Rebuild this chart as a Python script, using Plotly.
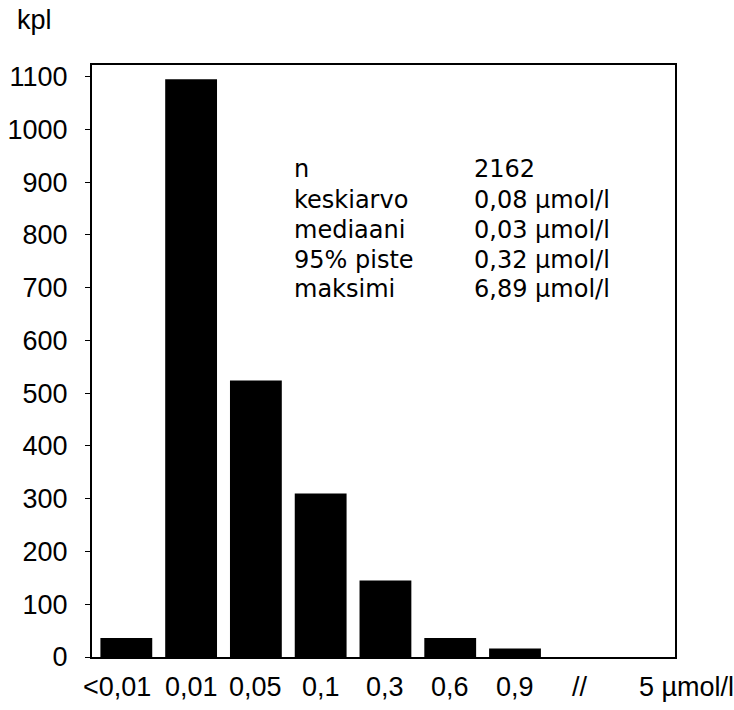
import plotly.graph_objects as go

# Histogram of concentrations (counts per class)
classes = ["<0,01", "0,01", "0,05", "0,1", "0,3", "0,6", "0,9", "//", "5 µmol/l"]
counts = [36, 1095, 524, 310, 145, 36, 16, 0, 0]

y_ticks = list(range(0, 1101, 100))

stat_names = ["n", "keskiarvo", "mediaani", "95% piste", "maksimi"]
stat_values = ["2162", "0,08 µmol/l", "0,03 µmol/l", "0,32 µmol/l", "6,89 µmol/l"]

x_pos = list(range(len(classes)))

fig = go.Figure()
fig.add_trace(go.Bar(
    x=x_pos,
    y=counts,
    width=0.8,
    marker=dict(color="black", line=dict(width=0)),
    hoverinfo="x+y",
))

annotations = []

# Class labels under the bars
label_shift = {0: -9}
for i, lab in enumerate(classes):
    last = i == len(classes) - 1
    annotations.append(dict(
        x=i, y=0, xref="x", yref="paper", text=lab, showarrow=False,
        xanchor="left" if last else "center", yanchor="top",
        xshift=-8 if last else label_shift.get(i, 0), yshift=-13,
        font=dict(family="Liberation Sans, Arial", size=27, color="black"),
    ))

# Summary statistics block
row_y = [925, 866, 809, 752, 697]
for name, val, yy in zip(stat_names, stat_values, row_y):
    annotations.append(dict(
        x=2.55, y=yy, xref="x", yref="y", text=name, showarrow=False,
        xanchor="left", yanchor="middle",
        font=dict(family="DejaVu Sans, Verdana", size=24, color="black"),
    ))
    annotations.append(dict(
        x=5.33, y=yy, xref="x", yref="y", text=val, showarrow=False,
        xanchor="left", yanchor="middle",
        font=dict(family="DejaVu Sans, Verdana", size=24, color="black"),
    ))

# Unit label of the y axis
annotations.append(dict(
    x=0, y=1, xref="paper", yref="paper", text="kpl", showarrow=False,
    xanchor="left", yanchor="middle", xshift=-77, yshift=45,
    font=dict(family="Liberation Sans, Arial", size=27, color="black"),
))

fig.update_layout(
    width=734, height=710,
    margin=dict(l=92, r=59, t=65, b=53, autoexpand=False),
    paper_bgcolor="white", plot_bgcolor="white",
    showlegend=False,
    annotations=annotations,
    xaxis=dict(
        range=[-0.53, 8.47], showticklabels=False, ticks="",
        showgrid=False, zeroline=False, automargin=False,
        showline=True, linecolor="black", linewidth=2, mirror=True,
    ),
    yaxis=dict(
        range=[0, 1122], tickvals=y_ticks, ticks="outside", ticklen=5,
        tickcolor="black", tickwidth=1, automargin=False,
        showgrid=False, zeroline=False,
        showline=True, linecolor="black", linewidth=2, mirror=True,
        tickfont=dict(family="Liberation Sans, Arial", size=27, color="black"),
        ticklabelstandoff=12,
    ),
)

fig.write_html("out.html")
